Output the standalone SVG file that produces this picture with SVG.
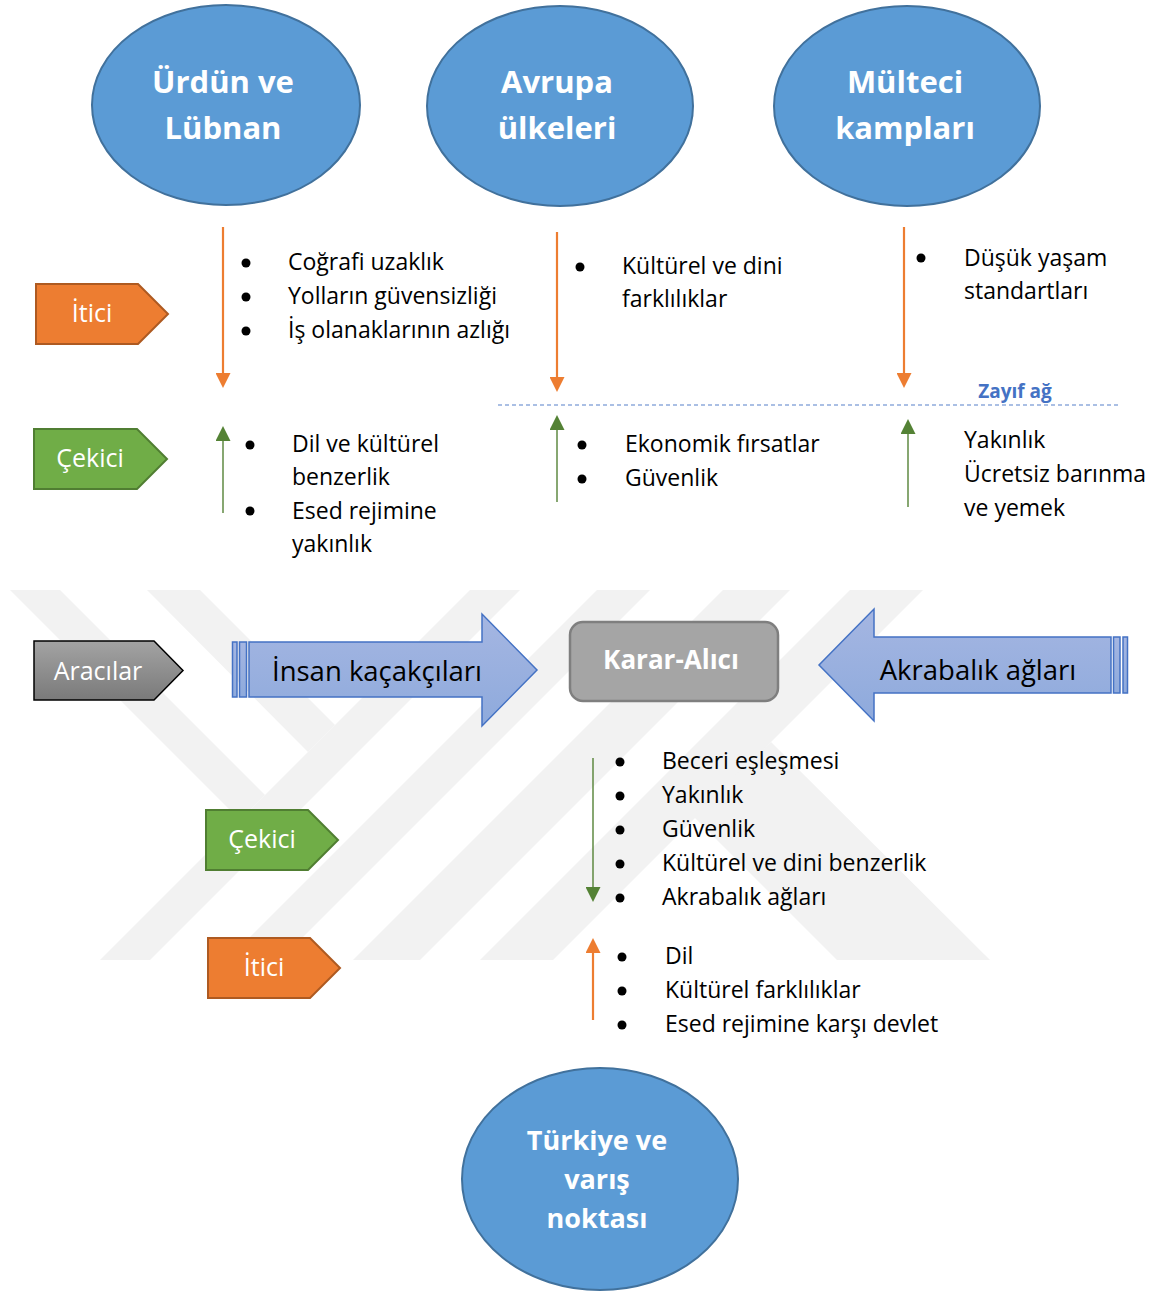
<svg xmlns="http://www.w3.org/2000/svg" width="1158" height="1293" viewBox="0 0 1158 1293">
<defs>
<style>
.ell{fill:#5b9bd5;stroke:#41719c;stroke-width:2}
.et{font-family:"Open Sans","Noto Sans",sans-serif;font-weight:bold;fill:#fff;text-anchor:middle}
.lbl{font-family:"Open Sans","Noto Sans",sans-serif;font-size:25px;fill:#fff;text-anchor:middle}
.t{font-family:"Open Sans","Noto Sans",sans-serif;font-size:23px;fill:#000}
.bt{font-family:"Open Sans","Noto Sans",sans-serif;font-size:27.5px;fill:#000;text-anchor:middle}
.orange{fill:#ed7d31;stroke:#ae5a21;stroke-width:2}
.green{fill:#70ad47;stroke:#507e32;stroke-width:2}
.ol{stroke:#ed7d31;stroke-width:2.2;fill:none}
.gl{stroke:#548235;stroke-width:1.4;fill:none}
.wm{fill:#f2f2f2}
.blk{fill:url(#bluegrad);stroke:#4472c4;stroke-width:1.5}
</style>
<linearGradient id="bluegrad" x1="0" y1="0" x2="0" y2="1">
<stop offset="0" stop-color="#a5b6e2"/>
<stop offset="1" stop-color="#8eaadc"/>
</linearGradient>
<linearGradient id="graygrad" x1="0" y1="0" x2="0" y2="1">
<stop offset="0" stop-color="#a3a3a3"/>
<stop offset="1" stop-color="#7a7a7a"/>
</linearGradient>
<marker id="ao" viewBox="0 0 15 15" refX="11" refY="7.5" markerWidth="15" markerHeight="15" markerUnits="userSpaceOnUse" orient="auto">
<path d="M0,0 L15,7.5 L0,15 Z" fill="#ed7d31"/>
</marker>
<marker id="ag" viewBox="0 0 15 15" refX="11" refY="7.5" markerWidth="15" markerHeight="15" markerUnits="userSpaceOnUse" orient="auto">
<path d="M0,0 L15,7.5 L0,15 Z" fill="#548235"/>
</marker>
</defs>
<rect width="1158" height="1293" fill="#fff"/>

<g id="watermark">
<polygon class="wm" points="10,590 60,590 265,795 240,820"/>
<polygon class="wm" points="147,590 200,590 335,725 308,752"/>
<polygon class="wm" points="470,590 520,590 150,960 100,960"/>
<polygon class="wm" points="597,590 650,590 280,960 227,960"/>
<polygon class="wm" points="723,590 790,590 420,960 353,960"/>
<polygon class="wm" points="850,590 923,590 553,960 480,960"/>
<polygon class="wm" points="771,742 990,960 837,960 692,815"/>
</g>

<g id="connectors">
<line class="ol" x1="223" y1="227" x2="223" y2="384" marker-end="url(#ao)"/>
<line class="ol" x1="557" y1="232" x2="557" y2="388" marker-end="url(#ao)"/>
<line class="ol" x1="904" y1="227" x2="904" y2="384" marker-end="url(#ao)"/>
<line class="gl" x1="223" y1="513" x2="223" y2="430" marker-end="url(#ag)"/>
<line class="gl" x1="557" y1="502" x2="557" y2="419" marker-end="url(#ag)"/>
<line class="gl" x1="908" y1="507" x2="908" y2="423" marker-end="url(#ag)"/>
<line class="gl" x1="593" y1="758" x2="593" y2="898" marker-end="url(#ag)"/>
<line class="ol" x1="593" y1="1020" x2="593" y2="942" marker-end="url(#ao)"/>
<line x1="498" y1="405" x2="1120" y2="405" stroke="#8faadc" stroke-width="1.6" stroke-dasharray="4,3"/>
</g>

<g id="node-urdun">
<ellipse class="ell" cx="226" cy="105" rx="134" ry="100"/>
<text class="et" x="223" y="93" font-size="31">Ürdün ve</text>
<text class="et" x="223" y="139" font-size="31">Lübnan</text>
</g>
<g id="node-avrupa">
<ellipse class="ell" cx="560" cy="106" rx="133" ry="100"/>
<text class="et" x="557" y="93" font-size="31">Avrupa</text>
<text class="et" x="557" y="139" font-size="31">ülkeleri</text>
</g>
<g id="node-multeci">
<ellipse class="ell" cx="907" cy="106" rx="133" ry="100"/>
<text class="et" x="905" y="93" font-size="31">Mülteci</text>
<text class="et" x="905" y="139" font-size="31">kampları</text>
</g>

<g id="node-itici-top">
<polygon class="orange" points="36,284 138,284 168,314 138,344 36,344"/>
<text class="lbl" x="92" y="322">İtici</text>
</g>
<g id="node-cekici-top">
<polygon class="green" points="34,429 137,429 167,459 137,489 34,489"/>
<text class="lbl" x="90" y="467">Çekici</text>
</g>

<g id="list-push-1">
<circle cx="246" cy="263" r="4.5"/><text class="t" x="288" y="270">Coğrafi uzaklık</text>
<circle cx="246" cy="297" r="4.5"/><text class="t" x="288" y="304">Yolların güvensizliği</text>
<circle cx="246" cy="331" r="4.5"/><text class="t" x="288" y="338">İş olanaklarının azlığı</text>
</g>
<g id="list-push-2">
<circle cx="580" cy="267" r="4.5"/><text class="t" x="622" y="274">Kültürel ve dini</text>
<text class="t" x="622" y="307">farklılıklar</text>
</g>
<g id="list-push-3">
<circle cx="921" cy="258" r="4.5"/><text class="t" x="964" y="266">Düşük yaşam</text>
<text class="t" x="964" y="299">standartları</text>
</g>
<g id="label-zayif">
<text x="1015" y="398" font-family="'Open Sans','Noto Sans',sans-serif" font-weight="bold" font-size="19" fill="#4472c4" text-anchor="middle">Zayıf ağ</text>
</g>
<g id="list-pull-1">
<circle cx="250" cy="445" r="4.5"/><text class="t" x="292" y="452">Dil ve kültürel</text>
<text class="t" x="292" y="485">benzerlik</text>
<circle cx="250" cy="511" r="4.5"/><text class="t" x="292" y="519">Esed rejimine</text>
<text class="t" x="292" y="552">yakınlık</text>
</g>
<g id="list-pull-2">
<circle cx="582" cy="445" r="4.5"/><text class="t" x="625" y="452">Ekonomik fırsatlar</text>
<circle cx="582" cy="479" r="4.5"/><text class="t" x="625" y="486">Güvenlik</text>
</g>
<g id="list-pull-3">
<text class="t" x="964" y="448">Yakınlık</text>
<text class="t" x="964" y="482">Ücretsiz barınma</text>
<text class="t" x="964" y="516">ve yemek</text>
</g>

<g id="node-aracilar">
<polygon points="34,641 154,641 183,670.5 154,700 34,700" fill="url(#graygrad)" stroke="#000" stroke-width="1.5"/>
<text class="lbl" x="98" y="680">Aracılar</text>
</g>
<g id="node-insan">
<rect class="blk" x="232.5" y="642" width="4.5" height="55"/>
<rect class="blk" x="239.5" y="642" width="7" height="55"/>
<polygon class="blk" points="249,642 482,642 482,614 537,670 482,726 482,697 249,697"/>
<text class="bt" x="377" y="681">İnsan kaçakçıları</text>
</g>
<g id="node-karar">
<rect x="570" y="622" width="208" height="79" rx="13" fill="#a5a5a5" stroke="#7f7f7f" stroke-width="2.5"/>
<text x="671" y="669" font-family="'Open Sans','Noto Sans',sans-serif" font-weight="bold" font-size="26" fill="#fff" text-anchor="middle">Karar-Alıcı</text>
</g>
<g id="node-akrabalik">
<polygon class="blk" points="1111,637 874,637 874,609 819,665 874,721 874,693 1111,693"/>
<rect class="blk" x="1113.5" y="637" width="6.5" height="56"/>
<rect class="blk" x="1123" y="637" width="4.5" height="56"/>
<text class="bt" x="978" y="680">Akrabalık ağları</text>
</g>

<g id="node-cekici-bottom">
<polygon class="green" points="206,810 308,810 338,840 308,870 206,870"/>
<text class="lbl" x="262" y="848">Çekici</text>
</g>
<g id="node-itici-bottom">
<polygon class="orange" points="208,938 310,938 340,968 310,998 208,998"/>
<text class="lbl" x="264" y="976">İtici</text>
</g>

<g id="list-final-pull">
<circle cx="620" cy="762" r="4.5"/><text class="t" x="662" y="769">Beceri eşleşmesi</text>
<circle cx="620" cy="796" r="4.5"/><text class="t" x="662" y="803">Yakınlık</text>
<circle cx="620" cy="830" r="4.5"/><text class="t" x="662" y="837">Güvenlik</text>
<circle cx="620" cy="864" r="4.5"/><text class="t" x="662" y="871">Kültürel ve dini benzerlik</text>
<circle cx="620" cy="898" r="4.5"/><text class="t" x="662" y="905">Akrabalık ağları</text>
</g>
<g id="list-final-push">
<circle cx="622" cy="957" r="4.5"/><text class="t" x="665" y="964">Dil</text>
<circle cx="622" cy="991" r="4.5"/><text class="t" x="665" y="998">Kültürel farklılıklar</text>
<circle cx="622" cy="1025" r="4.5"/><text class="t" x="665" y="1032">Esed rejimine karşı devlet</text>
</g>

<g id="node-turkiye">
<ellipse class="ell" cx="600" cy="1179" rx="138" ry="111"/>
<text class="et" x="597" y="1150" font-size="27">Türkiye ve</text>
<text class="et" x="597" y="1189" font-size="27">varış</text>
<text class="et" x="597" y="1228" font-size="27">noktası</text>
</g>
</svg>
